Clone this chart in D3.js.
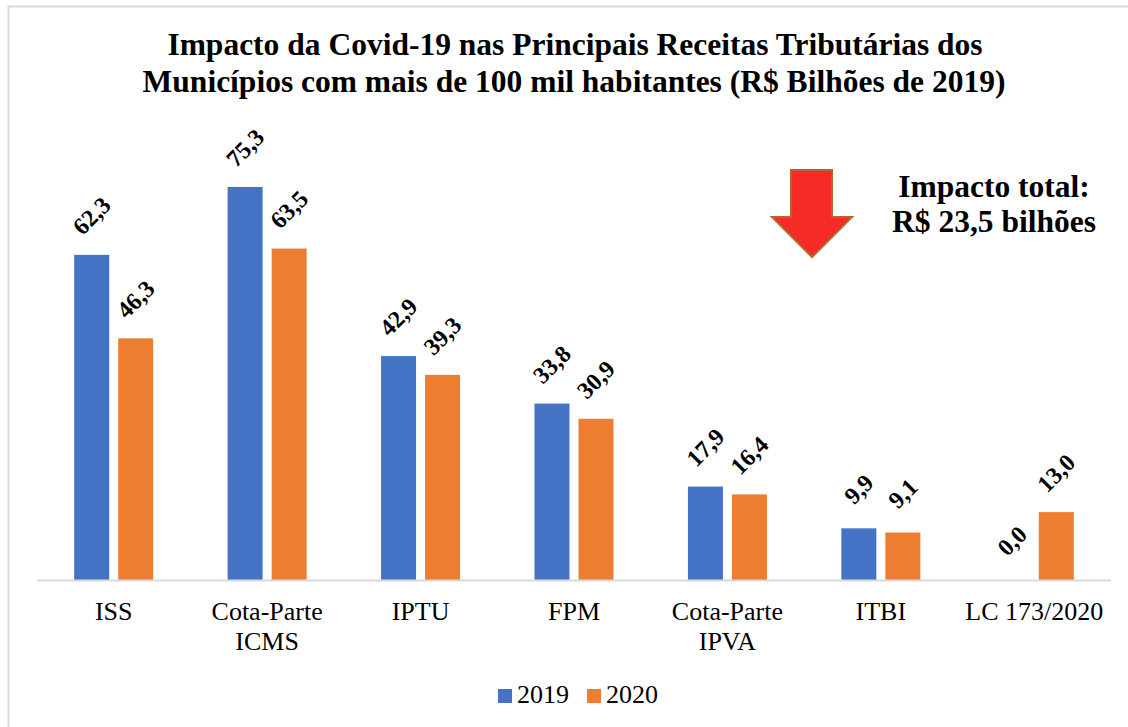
<!DOCTYPE html>
<html lang="pt">
<head>
<meta charset="utf-8">
<title>Impacto da Covid-19 nas Receitas Tributárias</title>
<script src="https://cdnjs.cloudflare.com/ajax/libs/d3/7.8.5/d3.min.js"></script>
<style>
  body { margin: 0; background: #fff; }
  * { font-family: "Liberation Serif", "Times New Roman", serif; }
  .title { font-weight: bold; font-size: 31.5px; }
  .cat { font-size: 26px; }
  .lbl { font-weight: bold; font-size: 24px; }
  .leg { font-size: 26px; }
</style>
</head>
<body>
<div id="vis"></div>
<script>
  // data
  var categories = ['ISS', 'Cota-Parte ICMS', 'IPTU', 'FPM', 'Cota-Parte IPVA', 'ITBI', 'LC 173/2020'];
  var catLines = [['ISS'], ['Cota-Parte', 'ICMS'], ['IPTU'], ['FPM'], ['Cota-Parte', 'IPVA'], ['ITBI'], ['LC 173/2020']];
  var series = ['2019', '2020'];
  var values2019 = [62.3, 75.3, 42.9, 33.8, 17.9, 9.9, 0.0];
  var values2020 = [46.3, 63.5, 39.3, 30.9, 16.4, 9.1, 13.0];
  var colors = ['#4472C4', '#ED7D31'];

  var width = 1128, height = 727;

  var svg = d3.select('#vis')
    .append('svg')
    .attr('width', width)
    .attr('height', height);

  // outer frame
  svg.append('rect')
    .attr('x', 8.5).attr('y', 6.5)
    .attr('width', 1140).attr('height', 740)
    .attr('fill', 'none')
    .attr('stroke', '#d9d9d9')
    .attr('stroke-width', 2);

  // title
  var title = svg.append('text')
    .attr('class', 'title')
    .attr('text-anchor', 'middle');
  title.append('tspan').attr('x', 575).attr('y', 55)
    .text('Impacto da Covid-19 nas Principais Receitas Tributárias dos');
  title.append('tspan').attr('x', 574).attr('y', 92)
    .text('Municípios com mais de 100 mil habitantes (R$ Bilhões de 2019)');

  var x_scale = d3.scaleBand()
    .domain(categories)
    .range([37, 1111]);

  var x_inner = d3.scaleBand()
    .domain(series)
    .range([0, x_scale.bandwidth()])
    .paddingInner(0.205)
    .paddingOuter(0.845);

  var y_scale = d3.scaleLinear()
    .domain([0, 75.3])
    .range([580, 187]);

  var rows = categories.map(function(c, i) {
    return { cat: c, vals: [
      { s: '2019', v: values2019[i], c: colors[0] },
      { s: '2020', v: values2020[i], c: colors[1] }
    ] };
  });

  var groups = svg.selectAll('.grp')
    .data(rows)
    .enter()
    .append('g')
    .attr('class', 'grp')
    .attr('transform', function(d) { return 'translate(' + x_scale(d.cat) + ',0)'; });

  groups.selectAll('rect')
    .data(function(d) { return d.vals; })
    .enter()
    .append('rect')
    .attr('x', function(d) { return x_inner(d.s); })
    .attr('width', x_inner.bandwidth())
    .attr('y', function(d) { return y_scale(d.v); })
    .attr('height', function(d) { return y_scale(0) - y_scale(d.v); })
    .attr('fill', function(d) { return d.c; });

  groups.selectAll('.lbl')
    .data(function(d) { return d.vals; })
    .enter()
    .append('text')
    .attr('class', 'lbl')
    .attr('text-anchor', 'middle')
    .attr('dominant-baseline', 'central')
    .attr('transform', function(d) {
      var cx = x_inner(d.s) + x_inner.bandwidth() / 2;
      var cy = y_scale(d.v) - 39;
      return 'translate(' + cx + ',' + cy + ') rotate(-45)';
    })
    .text(function(d) { return d3.format('.1f')(d.v).replace('.', ','); });

  // baseline
  svg.append('line')
    .attr('x1', 37).attr('x2', 1111)
    .attr('y1', y_scale(0) + 0.5).attr('y2', y_scale(0) + 0.5)
    .attr('stroke', '#d9d9d9')
    .attr('stroke-width', 2);

  // category labels
  var cats = svg.selectAll('.cat')
    .data(categories)
    .enter()
    .append('text')
    .attr('class', 'cat')
    .attr('text-anchor', 'middle');
  cats.each(function(d, i) {
    var t = d3.select(this);
    catLines[i].forEach(function(line, j) {
      t.append('tspan')
        .attr('x', x_scale(d) + x_scale.bandwidth() / 2)
        .attr('y', 620 + j * 30)
        .text(line);
    });
  });

  // legend
  var legX = [498, 587];
  series.forEach(function(s, i) {
    svg.append('rect')
      .attr('x', legX[i]).attr('y', 689)
      .attr('width', 14).attr('height', 14)
      .attr('fill', colors[i]);
    svg.append('text')
      .attr('class', 'leg')
      .attr('x', legX[i] + 19).attr('y', 703)
      .text(s);
  });

  // impact arrow
  var arrow = [[791, 170], [832, 170], [832, 217], [852, 217], [812, 257], [772, 217], [791, 217]];
  svg.append('path')
    .attr('d', d3.line()(arrow) + 'Z')
    .attr('fill', '#F62A26')
    .attr('stroke', '#B5642C')
    .attr('stroke-width', 2)
    .attr('stroke-linejoin', 'miter');

  var imp = svg.append('text')
    .attr('class', 'title')
    .attr('text-anchor', 'middle');
  imp.append('tspan').attr('x', 994).attr('y', 197).text('Impacto total:');
  imp.append('tspan').attr('x', 994).attr('y', 232).text('R$ 23,5 bilhões');
</script>
</body>
</html>
